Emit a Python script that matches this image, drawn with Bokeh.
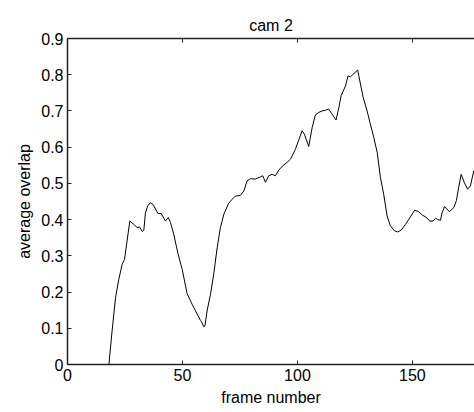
from bokeh.plotting import figure
from bokeh.models import LinearAxis, Range1d, FixedTicker
from bokeh.embed import file_html
from bokeh.resources import INLINE

# data
frames = [1, 18.0, 19.4, 20.9, 22.3, 23.8, 24.8, 25.9, 27.1, 28.8, 30.3, 31.3, 32.5, 33.2,
          33.9, 34.9, 36.1, 37.3, 38.3, 39.3, 40.7, 41.9, 42.6, 43.8, 44.8, 46.2, 47.9,
          49.9, 52.0, 54.2, 56.4, 57.8, 58.3, 59.3, 59.8, 60.7, 62.2, 63.6, 65.1, 66.5,
          68.0, 70.1, 71.6, 73.0, 75.2, 76.7, 78.1, 79.6, 81.7, 83.9, 84.9, 86.1, 87.5,
          89.0, 90.4, 91.9, 93.5, 95.5, 97.0, 99.1, 100.6, 102.0, 103.0, 104.9, 106.4,
          107.8, 109.3, 110.7, 112.2, 113.6, 115.1, 116.8, 118.0, 119.0, 120.9, 122.0,
          123.0, 124.5, 126.2, 127.4, 128.6, 130.3, 131.7, 133.2, 134.7, 136.1, 137.5,
          139.0, 140.4, 142.2, 143.6, 145.1, 147.0, 149.1, 151.0, 152.7, 154.2, 156.1,
          157.5, 159.0, 160.1, 161.0, 162.2, 162.9, 164.0, 166.1, 168.0, 169.1, 170.1,
          171.2, 172.6, 174.0, 175.2, 176.7]
overlap = [0.0, 0.0, 0.093, 0.185, 0.235, 0.277, 0.290, 0.341, 0.396, 0.387, 0.378, 0.380,
           0.367, 0.371, 0.419, 0.438, 0.447, 0.441, 0.429, 0.417, 0.417, 0.404, 0.396,
           0.406, 0.392, 0.360, 0.310, 0.262, 0.196, 0.166, 0.139, 0.122, 0.118, 0.104,
           0.107, 0.148, 0.194, 0.250, 0.323, 0.378, 0.415, 0.445, 0.456, 0.465, 0.467,
           0.479, 0.507, 0.513, 0.512, 0.518, 0.521, 0.503, 0.521, 0.525, 0.521, 0.537,
           0.548, 0.558, 0.567, 0.594, 0.620, 0.645, 0.636, 0.602, 0.654, 0.689, 0.696,
           0.700, 0.702, 0.705, 0.691, 0.675, 0.709, 0.742, 0.769, 0.797, 0.794, 0.803,
           0.813, 0.774, 0.737, 0.700, 0.664, 0.627, 0.585, 0.516, 0.470, 0.410, 0.383,
           0.369, 0.366, 0.371, 0.387, 0.407, 0.426, 0.422, 0.413, 0.406, 0.396, 0.396,
           0.404, 0.400, 0.398, 0.419, 0.436, 0.422, 0.433, 0.452, 0.488, 0.525, 0.502,
           0.484, 0.493, 0.535]
x_ticks = [0, 50, 100, 150]
y_ticks = [0, 0.1, 0.2, 0.3, 0.4, 0.5, 0.6, 0.7, 0.8, 0.9]
title_text = "cam 2"
x_label = "frame number"
y_label = "average overlap"

FONT = "Liberation Sans"
FS = "16px"

p = figure(width=474, height=412, output_backend="svg", toolbar_location=None,
           x_range=Range1d(0, 177), y_range=Range1d(0, 0.9),
           min_border_left=67, min_border_right=0, min_border_top=38,
           min_border_bottom=48, x_axis_label=x_label, y_axis_label=y_label)

p.title.text = title_text
p.title.align = "center"
p.title.text_font = FONT
p.title.text_font_size = FS
p.title.text_font_style = "normal"
p.title.text_color = "black"

p.outline_line_color = None
p.grid.visible = False
p.background_fill_color = "white"
p.border_fill_color = "white"

top = LinearAxis()
p.add_layout(top, "above")

for ax in p.xaxis:
    ax.ticker = FixedTicker(ticks=x_ticks)
for ax in p.yaxis:
    ax.ticker = FixedTicker(ticks=y_ticks)
    ax.major_label_overrides = {0: "0"}

for ax in p.axis:
    ax.axis_line_color = "#222222"
    ax.axis_line_width = 1.5
    ax.major_tick_line_color = "#222222"
    ax.major_tick_in = 4
    ax.major_tick_out = 0
    ax.minor_tick_line_color = None
    ax.major_label_text_font = FONT
    ax.major_label_text_font_size = FS
    ax.major_label_text_color = "black"
    ax.axis_label_text_font = FONT
    ax.axis_label_text_font_size = FS
    ax.axis_label_text_font_style = "normal"
    ax.axis_label_text_color = "black"
    ax.major_label_standoff = 4
    ax.axis_label_standoff = 5

top.major_label_overrides = {t: "" for t in x_ticks}
top.major_label_standoff = 0
top.axis_label = None

p.line(frames, overlap, line_color="black", line_width=1)

open("out.html", "w").write(file_html(p, INLINE))
